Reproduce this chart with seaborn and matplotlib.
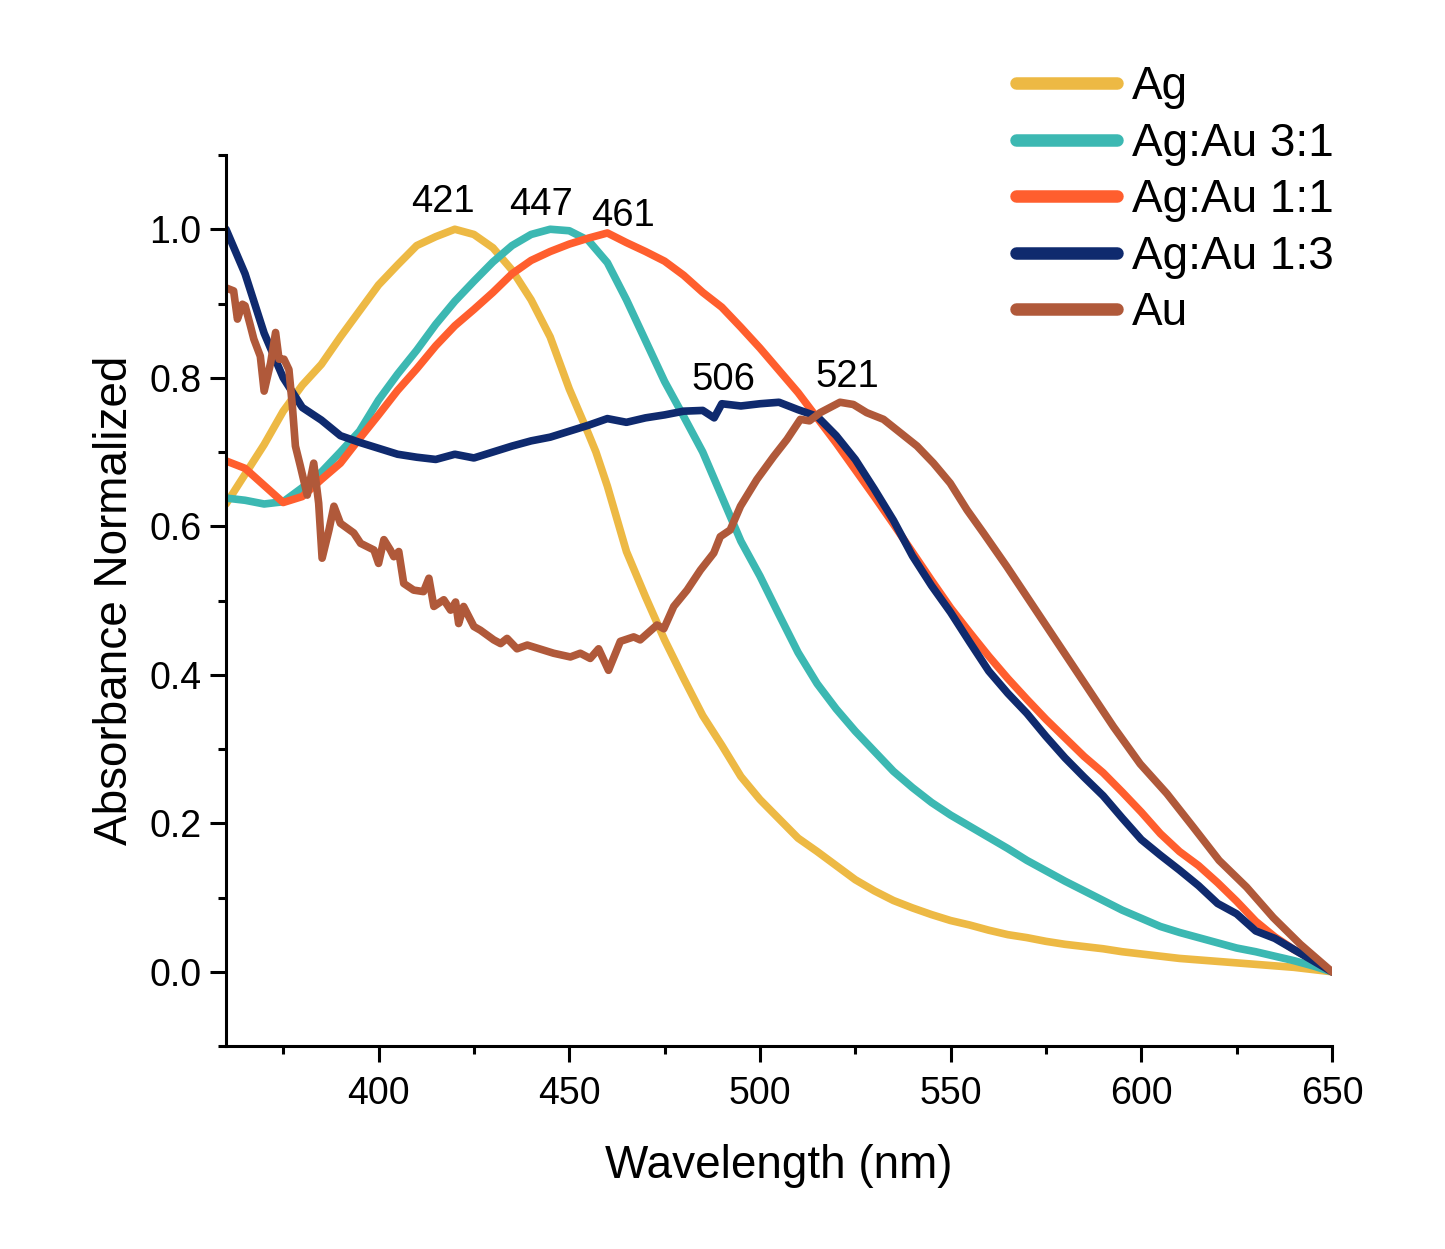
import seaborn as sns
import pandas as pd
import matplotlib.pyplot as plt
from matplotlib.lines import Line2D
from matplotlib.ticker import MultipleLocator, FormatStrFormatter

# values (wavelength in nm, normalized absorbance)
wl_5 = [360, 365, 370, 375, 380, 385, 390, 395, 400, 405, 410, 415, 420, 425, 430,
        435, 440, 445, 450, 455, 460, 465, 470, 475, 480, 485, 490, 495, 500, 505,
        510, 515, 520, 525, 530, 535, 540, 545, 550, 555, 560, 565, 570, 575, 580,
        585, 590, 595, 600, 605, 610, 615, 620, 625, 630, 635, 640, 645, 650]

ag_wl = [360, 365, 370, 375, 380, 385, 390, 395, 400, 405, 410, 415, 420, 425, 430,
         435, 440, 445, 450, 455, 457, 460, 465, 470, 475, 480, 485, 490, 495, 500,
         505, 510, 515, 520, 525, 530, 535, 540, 545, 550, 555, 560, 565, 570, 575,
         580, 585, 590, 595, 600, 605, 610, 615, 620, 625, 630, 635, 640, 645, 650]
ag = [0.63, 0.67, 0.71, 0.755, 0.79, 0.818, 0.855, 0.89, 0.925, 0.952, 0.978, 0.99,
      1.0, 0.993, 0.975, 0.945, 0.905, 0.855, 0.785, 0.725, 0.70, 0.654, 0.566, 0.505,
      0.447, 0.395, 0.345, 0.305, 0.263, 0.232, 0.206, 0.18, 0.162, 0.143, 0.124, 0.109,
      0.096, 0.086, 0.077, 0.069, 0.063, 0.056, 0.05, 0.046, 0.041, 0.037, 0.034, 0.031,
      0.027, 0.024, 0.021, 0.018, 0.016, 0.014, 0.012, 0.01, 0.008, 0.006, 0.003, 0.0]

agau31 = [0.638, 0.635, 0.63, 0.633, 0.652, 0.673, 0.70, 0.728, 0.77, 0.805, 0.837,
          0.872, 0.903, 0.93, 0.956, 0.978, 0.993, 1.0, 0.998, 0.985, 0.955, 0.905,
          0.85, 0.795, 0.748, 0.70, 0.64, 0.58, 0.533, 0.481, 0.43, 0.388, 0.354,
          0.324, 0.297, 0.27, 0.248, 0.228, 0.211, 0.196, 0.181, 0.166, 0.15, 0.136,
          0.122, 0.109, 0.096, 0.083, 0.072, 0.061, 0.053, 0.046, 0.039, 0.032, 0.027,
          0.021, 0.015, 0.008, 0.0]

agau11 = [0.688, 0.678, 0.655, 0.632, 0.64, 0.663, 0.685, 0.718, 0.75, 0.783, 0.812,
          0.843, 0.87, 0.892, 0.915, 0.94, 0.958, 0.97, 0.98, 0.988, 0.995, 0.982,
          0.97, 0.957, 0.938, 0.915, 0.895, 0.868, 0.84, 0.81, 0.78, 0.746, 0.712,
          0.676, 0.64, 0.603, 0.565, 0.527, 0.49, 0.457, 0.425, 0.395, 0.367, 0.34,
          0.315, 0.29, 0.268, 0.242, 0.215, 0.186, 0.162, 0.143, 0.12, 0.095, 0.068,
          0.047, 0.03, 0.016, 0.0]

agau13_wl = [360, 365, 370, 375, 380, 385, 390, 395, 400, 405, 410, 415, 420, 425,
             430, 435, 440, 445, 450, 455, 460, 465, 470, 475, 480, 485, 488, 490,
             495, 500, 505, 510, 515, 520, 525, 530, 535, 540, 545, 550, 555, 560,
             565, 570, 575, 580, 585, 590, 595, 600, 605, 610, 615, 620, 625, 630,
             635, 640, 645, 650]
agau13 = [1.0, 0.94, 0.86, 0.80, 0.76, 0.743, 0.722, 0.713, 0.705, 0.697, 0.693, 0.69,
          0.697, 0.692, 0.70, 0.708, 0.715, 0.72, 0.728, 0.736, 0.745, 0.74, 0.746,
          0.75, 0.755, 0.756, 0.746, 0.765, 0.762, 0.765, 0.767, 0.757, 0.748, 0.722,
          0.69, 0.65, 0.608, 0.56, 0.52, 0.484, 0.444, 0.405, 0.375, 0.348, 0.317,
          0.288, 0.262, 0.237, 0.207, 0.178, 0.157, 0.137, 0.116, 0.092, 0.078,
          0.055, 0.045, 0.03, 0.015, 0.0]

au_wl = [360, 362, 363, 364.3, 365, 366.4, 367.3, 369, 370, 371.7, 373, 373.9, 375.2,
         376.5, 377.4, 378.2, 379.5, 381.3, 383, 384.3, 385.2, 387, 388.3, 390, 393.5,
         395.3, 398.8, 400, 401.4, 403.1, 404, 405.3, 406.6, 409.2, 411.8, 413.2,
         414.5, 417.1, 418.9, 420.2, 421, 422.3, 425, 426.7, 430.2, 432, 433.7, 436.3,
         439, 445.9, 450.3, 452.9, 455.5, 457.7, 460.3, 463.4, 466.9, 468.6, 473,
         474.8, 477.4, 480.9, 484.4, 487.9, 489.6, 492.2, 494.9, 499.2, 503.6, 507.1,
         510.6, 513, 515.8, 521, 524.5, 528, 532.4, 536.8, 541.2, 545.5, 549.9, 554.3,
         558.6, 564.7, 571.7, 578.7, 585.7, 592.7, 599.7, 606.7, 613.6, 620.4, 627.6,
         634.6, 641.7, 650]
au = [0.921, 0.917, 0.879, 0.899, 0.897, 0.87, 0.852, 0.829, 0.782, 0.82, 0.861,
      0.825, 0.825, 0.811, 0.762, 0.708, 0.681, 0.642, 0.685, 0.631, 0.557, 0.595,
      0.627, 0.604, 0.591, 0.577, 0.568, 0.55, 0.582, 0.568, 0.559, 0.566, 0.523,
      0.514, 0.512, 0.53, 0.492, 0.501, 0.487, 0.498, 0.469, 0.492, 0.465, 0.46,
      0.447, 0.442, 0.449, 0.435, 0.44, 0.429, 0.424, 0.429, 0.422, 0.435, 0.406,
      0.445, 0.451, 0.447, 0.467, 0.462, 0.492, 0.514, 0.541, 0.564, 0.586, 0.595,
      0.627, 0.663, 0.694, 0.717, 0.744, 0.742, 0.753, 0.767, 0.764, 0.753, 0.744,
      0.726, 0.708, 0.685, 0.658, 0.622, 0.591, 0.546, 0.492, 0.438, 0.384, 0.33,
      0.28, 0.24, 0.195, 0.15, 0.114, 0.073, 0.037, 0.0]

labels = ['Ag', 'Ag:Au 3:1', 'Ag:Au 1:1', 'Ag:Au 1:3', 'Au']
colors = ['#EDB944', '#3CB8B2', '#FF5E2E', '#0F2A6E', '#B0593A']

peak_text = ['421', '447', '461', '506', '521']
peak_x = [417, 442.5, 464, 490.5, 523]
peak_y = [1.023, 1.019, 1.005, 0.784, 0.787]

series = [(ag_wl, ag), (wl_5, agau31), (wl_5, agau11), (agau13_wl, agau13), (au_wl, au)]
frames = []
for name, (x, y) in zip(labels, series):
    frames.append(pd.DataFrame({'wavelength': x, 'absorbance': y, 'sample': name}))
df = pd.concat(frames, ignore_index=True)

sns.set_style('ticks')
plt.rcParams['font.family'] = ['Liberation Sans', 'DejaVu Sans']
for k in ['text.color', 'axes.labelcolor', 'xtick.color', 'ytick.color', 'axes.edgecolor']:
    plt.rcParams[k] = 'black'

fig = plt.figure(figsize=(14.45, 12.49), dpi=100)
ax = fig.add_axes([0.1564, 0.1625, 0.7654, 0.7134])

sns.lineplot(data=df, x='wavelength', y='absorbance', hue='sample', hue_order=labels,
             palette=dict(zip(labels, colors)), estimator=None, sort=False,
             linewidth=5.5, legend=False, ax=ax)

for t, x, y in zip(peak_text, peak_x, peak_y):
    ax.text(x, y, t, fontsize=27.5, ha='center', va='baseline')

ax.set_xlim(360, 650)
ax.set_ylim(-0.1, 1.1)
ax.xaxis.set_major_locator(MultipleLocator(50))
ax.xaxis.set_minor_locator(MultipleLocator(25))
ax.yaxis.set_major_locator(MultipleLocator(0.2))
ax.yaxis.set_minor_locator(MultipleLocator(0.1))
ax.yaxis.set_major_formatter(FormatStrFormatter('%.1f'))

sns.despine(ax=ax)
for s in ['left', 'bottom']:
    ax.spines[s].set_linewidth(2.2)
ax.tick_params(which='major', length=11.5, width=2.2, labelsize=27, direction='out')
ax.tick_params(axis='x', which='major', pad=10)
ax.tick_params(axis='y', which='major', pad=6)
ax.tick_params(which='minor', length=6, width=2.2, direction='out')

ax.set_xlabel('Wavelength (nm)', fontsize=33, labelpad=23)
ax.set_ylabel('Absorbance Normalized', fontsize=33, labelpad=9)

handles = [Line2D([], [], color=c, linewidth=9, solid_capstyle='round') for c in colors]
fig.legend(handles, labels, loc='upper left', bbox_to_anchor=(0.703, 0.948),
           frameon=False, fontsize=33, handlelength=2.2, handletextpad=0.33,
           labelspacing=0.275, borderpad=0, borderaxespad=0)

fig.savefig('out.png', dpi=100)
